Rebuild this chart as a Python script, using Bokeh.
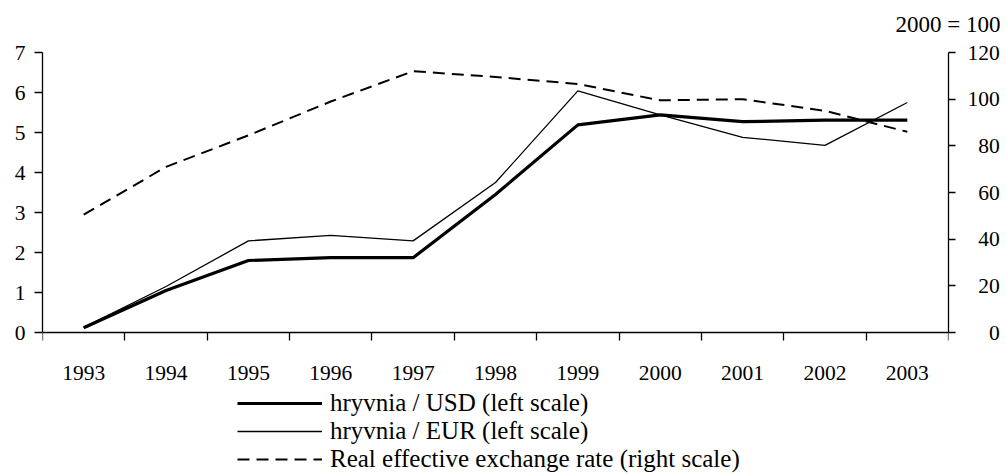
from bokeh.plotting import figure
from bokeh.models import (Range1d, LinearAxis, FixedTicker, Legend, LegendItem, Title)
from bokeh.core.properties import value
from bokeh.embed import file_html
from bokeh.resources import INLINE

years = [1993, 1994, 1995, 1996, 1997, 1998, 1999, 2000, 2001, 2002, 2003]
year_labels = [str(y) for y in years]
usd = [0.12, 1.05, 1.80, 1.87, 1.87, 3.45, 5.19, 5.44, 5.27, 5.31, 5.31]
eur = [0.13, 1.15, 2.29, 2.43, 2.29, 3.75, 6.04, 5.44, 4.88, 4.68, 5.75]
reer = [50.5, 71.0, 84.5, 99.0, 112.0, 109.5, 106.5, 99.5, 100.0, 95.0, 86.0]
left_ticks = [0, 1, 2, 3, 4, 5, 6, 7]
right_ticks = [0, 20, 40, 60, 80, 100, 120]
series_names = ["hryvnia / USD (left scale)", "hryvnia / EUR (left scale)",
                "Real effective exchange rate (right scale)"]
right_note = "2000 = 100"

FONT = "Liberation Serif"
FS = "21.5px"
LEG_FS = "25px"
NOTE_FS = "23px"

# frame reaches the bottom of the canvas so the legend can sit below the x axis
FRAME_H = 422
PX_PER_LEFT = 280 / 7.0
PX_PER_RIGHT = 280 / 120.0
left_lo = 7 - FRAME_H / PX_PER_LEFT
right_lo = 120 - FRAME_H / PX_PER_RIGHT
label_y = -40 / PX_PER_LEFT   # year labels sit 40 px below the zero line

p = figure(frame_width=906, frame_height=FRAME_H, output_backend="svg", toolbar_location=None,
           x_range=Range1d(years[0] - 0.5, years[-1] + 0.5), y_range=Range1d(left_lo, 7),
           min_border_left=42, min_border_right=58, min_border_top=52, min_border_bottom=0,
           x_axis_type=None, y_axis_type=None)
p.extra_y_ranges = {"reer": Range1d(right_lo, 120)}
p.outline_line_color = None
p.xgrid.visible = False
p.ygrid.visible = False
p.background_fill_color = "white"
p.border_fill_color = "white"

def style_axis(ax):
    ax.axis_line_color = "black"
    ax.axis_line_width = 1.3
    ax.major_tick_line_color = "black"
    ax.major_tick_line_width = 1.3
    ax.minor_tick_line_color = "black"
    ax.minor_tick_line_width = 1.3
    ax.major_tick_in = 0
    ax.minor_tick_in = 0
    ax.major_label_text_font = FONT
    ax.major_label_text_font_size = FS
    ax.major_label_text_color = "black"

# x axis at y = 0: ticks at category boundaries, year labels drawn as text below
bounds = [y - 0.5 for y in years] + [years[-1] + 0.5]
xax = LinearAxis(ticker=FixedTicker(ticks=bounds, minor_ticks=[]), fixed_location=0)
style_axis(xax)
xax.major_tick_out = 8
xax.minor_tick_out = 0
xax.major_label_overrides = {b: "" for b in bounds}
p.add_layout(xax, "below")

p.text(x=years, y=[label_y] * len(years), text=year_labels, text_align="center",
       text_baseline="middle", text_font=value(FONT), text_font_size=FS, text_color="black")

yax = LinearAxis(ticker=FixedTicker(ticks=left_ticks, minor_ticks=[]), bounds=(0, 7))
style_axis(yax)
yax.major_tick_out = 8
yax.minor_tick_out = 0
yax.major_label_standoff = 9
p.add_layout(yax, "left")

rax = LinearAxis(y_range_name="reer", ticker=FixedTicker(ticks=right_ticks, minor_ticks=[]),
                 bounds=(0, 120))
style_axis(rax)
rax.major_tick_out = 7
rax.minor_tick_out = 0
rax.major_label_standoff = 12
rax.major_label_overrides = {t: "\u2002" * (3 - len(str(t))) + str(t) for t in right_ticks}
p.add_layout(rax, "right")

r_usd = p.line(years, usd, line_color="black", line_width=3.2)
r_eur = p.line(years, eur, line_color="black", line_width=1.3)
r_reer = p.line(years, reer, line_color="black", line_width=2, line_dash="12 7",
                y_range_name="reer")

legend = Legend(items=[LegendItem(label=series_names[0], renderers=[r_usd]),
                       LegendItem(label=series_names[1], renderers=[r_eur]),
                       LegendItem(label=series_names[2], renderers=[r_reer])],
                location=(195, 1), orientation="vertical",
                glyph_width=85, glyph_height=24, label_height=24, label_standoff=8,
                spacing=0, padding=0, margin=0,
                label_text_font=FONT, label_text_font_size=LEG_FS, label_text_color="black",
                border_line_alpha=0, background_fill_alpha=0)
p.add_layout(legend, "center")

# spacer (closest to frame) then the note above it
spacer = Title(text=" ", text_font_size="1px", standoff=13)
p.add_layout(spacer, "above")
note = Title(text=right_note, align="right", offset=-52, standoff=0,
             vertical_align="bottom", text_font=FONT, text_font_size=NOTE_FS,
             text_font_style="normal", text_color="black")
p.add_layout(note, "above")

open("out.html", "w").write(file_html(p, INLINE))
